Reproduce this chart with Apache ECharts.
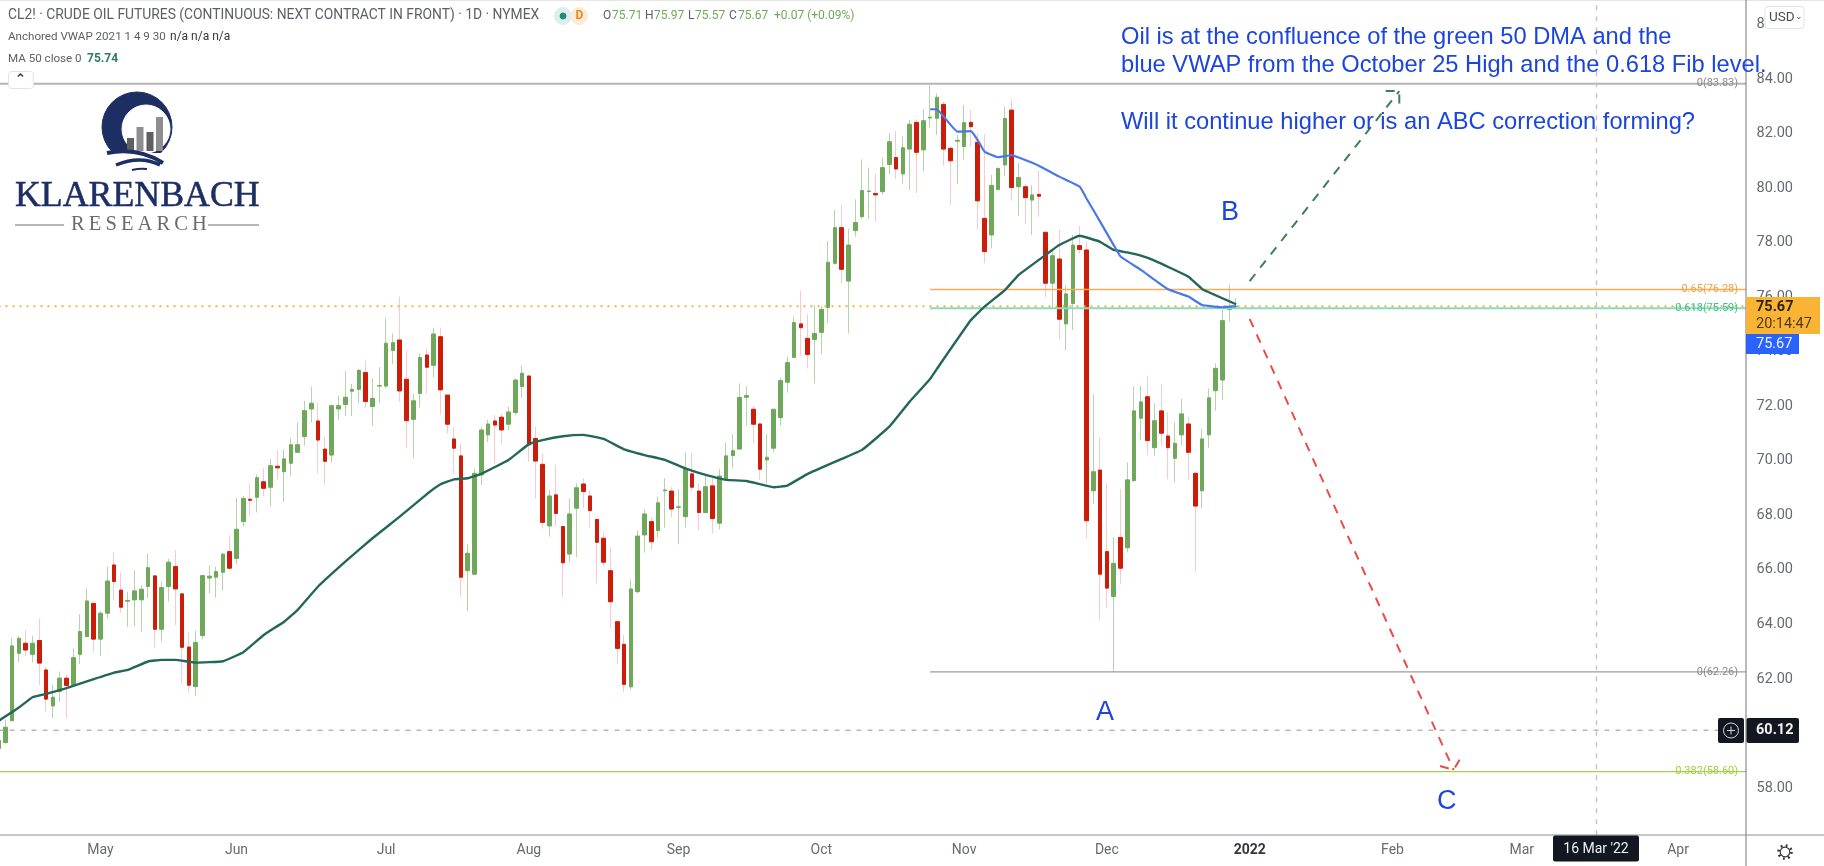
<!DOCTYPE html>
<html>
<head>
<meta charset="utf-8">
<title>CL2! Crude Oil Futures</title>
<script src="https://cdn.jsdelivr.net/npm/echarts@6/dist/echarts.min.js"></script>
<style>
html,body{margin:0;padding:0;background:#fff;}
#main{width:1824px;height:866px;}
</style>
</head>
<body>
<div id="main"></div>
<script>
// candles, one column per trading day
var opens = [59.45,59.67,60.47,62.94,63.31,62.9,63.41,62.33,61.01,61.54,62.03,61.78,62.9,63.55,64.77,63.46,64.41,66.18,65.26,64.85,
64.9,64.9,65.39,65.78,63.82,65.39,66.12,65.12,63.17,61.72,63.59,65.7,65.73,65.91,66.67,66.42,67.77,68.59,68.66,69.23,
69.03,69.8,69.6,69.91,70.31,70.89,71.9,71.46,70.43,70.21,71.9,72.06,72.55,72.62,73.24,71.99,72.74,72.74,74.04,74.43,
72.99,71.52,72.47,73.88,73.5,74.55,72.41,70.8,70.18,65.97,65.84,69.48,70.95,71.46,71.6,71.34,71.77,72.72,73.11,70.82,
69.87,67.61,68.75,67.59,66.58,68.26,69.15,68.71,67.85,67.16,65.97,64.1,63.27,61.71,65.2,67.28,67.77,67.44,68.9,68.89,
68.29,67.95,69.52,68.89,68.1,69.08,67.71,69.32,70.19,70.43,72.33,71.89,71.35,70.03,70.46,71.58,72.88,73.79,75.02,74.49,
74.45,74.71,75.62,77.24,78.55,76.59,78.44,78.95,79.87,79.8,79.87,80.87,81.12,80.52,81.43,82.41,81.4,82.57,82.56,83.07,
81.46,81.72,81.52,82.41,81.68,78.89,78.28,79.95,80.85,82.86,80.05,80.05,79.56,79.77,78.38,76.51,77.4,75.02,75.77,77.89,
77.73,68.9,69.66,66.67,65.02,67.19,66.81,69.27,71.56,72.35,70.48,71.83,70.91,70.09,70.95,71.35,69.54,68.9,70.95,72.57,
72.96,75.55,75.66];
var closes = [59.75,60.23,63.21,63.49,63.06,63.31,62.58,61.26,61.33,62.03,61.76,62.78,63.74,64.86,63.46,64.41,65.59,65.57,64.63,64.88,
65.23,65.29,66.08,63.82,65.35,66.28,65.3,63.16,61.77,63.34,65.79,65.77,65.94,66.58,66.06,67.49,68.62,68.55,69.38,68.99,
69.82,69.74,70.07,70.59,70.59,71.84,72.11,70.76,69.98,72.02,72.02,72.33,72.62,73.32,72.17,72.29,72.76,74.31,74.33,72.56,
71.47,72.2,73.79,73.43,74.65,72.6,71.34,70.46,65.73,66.61,69.54,71.13,71.35,71.31,71.13,71.79,72.96,73.21,70.58,69.99,
67.74,68.71,68.07,66.26,68.05,69.01,68.87,68.17,67.01,66.28,64.83,63.12,61.8,65.3,67.24,68.05,67.03,68.46,68.93,68.23,
68.31,69.72,69.03,68.1,69.05,67.88,69.44,70.18,70.37,72.32,72.39,71.34,69.69,70.13,71.89,72.94,73.6,75.07,74.88,73.9,
74.67,75.55,77.28,78.55,77.02,77.91,78.74,79.91,79.89,79.75,80.75,81.7,80.7,81.48,82.34,81.31,82.47,82.6,83.33,81.43,
81.0,81.75,82.4,82.25,79.53,77.67,80.1,80.72,82.55,80.02,80.39,79.65,79.75,79.7,76.51,77.52,75.19,76.12,77.91,77.75,
67.8,69.6,65.84,65.33,66.24,66.06,69.3,71.83,72.16,70.74,71.47,71.01,70.48,70.64,71.72,70.31,68.34,70.8,72.31,73.39,
75.14,75.62,75.67];
var lows = [59.3,59.62,60.44,62.6,62.84,62.6,61.78,60.8,60.56,61.15,60.56,61.72,62.54,63.55,63.0,62.84,64.22,64.92,64.43,63.9,
63.94,63.74,64.96,63.15,63.37,64.84,63.98,61.84,61.5,61.39,63.45,65.14,64.99,65.24,66.02,66.2,67.58,67.98,68.11,68.71,
68.32,69.3,68.5,69.45,70.3,70.55,71.41,69.54,69.11,69.93,71.5,71.64,71.64,72.11,71.95,71.28,72.11,72.66,73.55,72.17,
70.46,70.09,71.96,72.47,73.06,71.72,71.0,69.52,65.02,64.49,65.83,69.11,70.68,69.91,70.62,71.13,71.68,72.29,69.97,68.62,
67.52,67.22,67.62,65.02,66.3,66.46,68.26,67.56,65.51,66.12,63.86,62.57,61.53,61.6,65.14,66.63,66.73,67.19,67.55,67.93,
66.94,67.56,68.87,67.46,68.07,67.34,67.49,69.3,69.72,70.43,71.29,70.64,69.3,69.17,70.31,71.28,72.5,73.78,73.84,73.39,
72.84,73.92,75.04,77.2,76.5,74.67,78.22,78.87,78.87,78.77,79.75,80.52,80.33,80.17,79.93,79.81,80.6,82.23,81.95,80.82,
79.38,80.14,81.05,81.52,78.49,77.24,77.79,79.93,80.44,79.54,78.98,78.68,78.28,78.95,76.0,75.59,74.45,74.04,74.8,77.6,
67.16,68.42,64.17,64.62,62.27,65.49,66.64,69.23,70.76,70.21,70.19,70.56,69.32,69.2,70.58,69.32,65.94,68.26,70.48,71.84,
72.23,75.1,75.57];
var highs = [60.0,60.52,63.49,63.58,63.8,63.58,64.22,62.45,61.78,62.27,62.15,63.12,64.37,65.32,64.8,64.5,66.12,66.64,65.9,65.2,
66.0,65.45,66.61,65.8,65.57,66.4,66.73,65.15,63.7,63.77,65.8,66.15,66.12,66.6,67.28,68.63,68.71,69.17,69.5,69.72,
70.07,70.4,70.42,70.82,71.4,72.2,72.72,72.11,70.89,72.03,72.39,73.29,72.82,73.35,73.66,73.02,73.43,75.22,74.67,76.02,
74.03,72.47,73.94,74.12,74.88,74.88,72.42,71.23,70.6,66.94,69.72,71.25,71.5,71.68,71.72,71.98,73.02,73.5,73.12,71.25,
70.27,68.93,69.85,67.6,68.62,69.17,69.36,68.93,67.86,67.4,66.83,64.12,63.61,65.65,67.46,68.22,67.95,68.68,69.36,69.03,
68.95,70.31,70.27,69.17,69.48,69.36,69.7,70.66,70.97,72.84,72.72,72.01,71.36,70.98,71.9,73.06,73.82,75.29,76.23,75.37,
75.71,75.68,78.06,79.2,79.38,78.52,79.59,81.05,80.75,80.54,81.12,82.01,82.09,81.89,82.5,82.52,82.89,83.78,83.47,83.17,
81.52,81.95,83.05,82.86,82.01,81.98,80.48,80.76,82.99,83.25,80.93,80.17,80.11,80.64,78.39,77.73,78.46,76.45,78.28,78.61,
78.03,72.44,70.82,69.17,67.2,68.96,69.94,72.72,72.74,73.09,72.11,72.82,71.78,71.41,72.27,71.62,69.6,71.19,72.66,73.57,
75.53,76.47,75.97];

// MA 50 and anchored VWAP, read at the bars listed
var maBars = [0,3,5,7,10,14,17,19,22,24,26,29,33,36,39,42,44,47,51,55,59,63,65,67,69,71,75,78,80,83,86,89,92,95,98,101,104,107,110,114,116,119,124,127,131,134,137,138,143,145,148,150,154,156,159,162,164,166,168,170,175,177,182];
var maValues = [60.46,60.95,61.33,61.45,61.66,61.99,62.23,62.33,62.64,62.7,62.7,62.6,62.65,62.98,63.61,64.1,64.53,65.39,66.3,67.16,67.95,68.78,69.14,69.32,69.36,69.52,70.03,70.61,70.76,70.9,70.95,70.8,70.42,70.21,70.03,69.72,69.48,69.3,69.26,69.03,69.09,69.52,70.07,70.4,71.25,72.17,73.0,73.37,75.16,75.65,76.26,76.81,77.55,77.91,78.25,78.03,77.73,77.64,77.52,77.34,76.75,76.3,75.74];
var vwapBars = [137,138,139,141,143,144,145,147,149,151,153,156,159,160,162,164,165,168,172,175,177,180,182];
var vwapValues = [82.89,82.89,82.62,82.07,82.09,81.76,81.34,81.13,81.21,81.03,80.82,80.42,80.05,79.62,78.77,77.91,77.49,77.0,76.29,76.02,75.71,75.63,75.67];

// fib levels
var levelNames = ['0(83.83)','0.65(76.28)','0.618(75.59)','0(62.26)','0.382(58.60)'];
var levelValues = [83.83,76.28,75.59,62.26,58.60];
var levelStart = [0,137,137,137,0];
var levelColors = ['#b4b4b4','#f8ac55','#86dcbc','#9c9c9c','#a5d24a'];
var levelTextColors = ['#8a8a8a','#f4a23e','#3cc28e','#8a8a8a','#a0cf3e'];
var lastPrice = 75.67;
var crossPrice = 60.12;
var crossBar = 235;
var barCount = 258;

// time axis
var tickBars = [15,35,57,78,100,121,142,163,184,205,224,247];
var tickLabels = ['May','Jun','Jul','Aug','Sep','Oct','Nov','Dec','2022','Feb','Mar','Apr'];

// hand drawn scenario arrows
var upArrow = [[184,76.59],[206,83.56]];
var upHead = [[204,83.56],[206,83.56],[206,83.1]];
var downArrow = [[184,75.2],[214,58.66]];
var downHead = [[212,58.81],[214,58.66],[215,59.1]];

var GREEN = '#6fa85a', RED = '#cc1c0a', PALE_GREEN = '#b6d4aa', PALE_RED = '#f7c9ce';
var BLUE = '#1c45dc', NAVY = '#1d2e63';

var categories = [];
for (var i = 0; i < barCount; i++) {
    var t = tickBars.indexOf(i);
    categories.push(t >= 0 ? tickLabels[t] : '' + i);
}

var wickData = [], bodyData = [];
opens.forEach(function (o, i) {
    wickData.push([o, closes[i], lows[i], highs[i]]);
    bodyData.push([o, closes[i], Math.min(o, closes[i]), Math.max(o, closes[i])]);
});

function pairs(xs, ys) {
    return xs.map(function (x, i) { return [x, ys[i]]; });
}

var UI_FONT = 'Roboto';

function txt(x, y, s, size, color, extra) {
    var style = { x: x, y: y, text: s, fontSize: size, fontFamily: UI_FONT, fill: color, verticalAlign: 'middle' };
    for (var k in extra) style[k] = extra[k];
    return { type: 'text', silent: true, z: 102, style: style };
}
function box(x, y, w, h, fill, stroke, r, z) {
    return { type: 'rect', silent: true, z: z || 99, shape: { x: x, y: y, width: w, height: h, r: r || 0 }, style: { fill: fill, stroke: stroke || null } };
}
function seg(x1, y1, x2, y2, color, w, z) {
    return { type: 'line', silent: true, z: z || 98, shape: { x1: x1, y1: y1, x2: x2, y2: y2 }, style: { stroke: color, lineWidth: w } };
}
function circ(cx, cy, r, fill, stroke, w, dash) {
    return { type: 'circle', silent: true, z: 100, shape: { cx: cx, cy: cy, r: r }, style: { fill: fill, stroke: stroke, lineWidth: w || 1, lineDash: dash || null } };
}
function curve(x1, y1, cx, cy, x2, y2, w) {
    return { type: 'bezierCurve', silent: true, z: 101, shape: { x1: x1, y1: y1, cpx1: cx, cpy1: cy, x2: x2, y2: y2 }, style: { stroke: NAVY, lineWidth: w, fill: null } };
}

var graphics = [
    // frame
    seg(0, 0.5, 1824, 0.5, '#e4e4e4', 1),
    seg(0, 835, 1824, 835, '#8c8c8c', 1.2),
    seg(1746, 0, 1746, 866, '#8c8c8c', 1.2),

    // header
    txt(8, 16, 'CL2! · CRUDE OIL FUTURES (CONTINUOUS: NEXT CONTRACT IN FRONT) · 1D · NYMEX', 13.85, '#5d6068'),
    circ(563, 16, 8.5, '#dcefeb', '#dcefeb'),
    circ(579, 16, 8.5, '#fdebd8', '#fdebd8'),
    circ(563, 16, 3, '#1f8a76', '#1f8a76'),
    txt(575.5, 16, 'D', 12, '#f0861e', { fontWeight: 'bold' }),
    txt(603, 16, 'O', 12, '#5d6068'),
    txt(612, 16, '75.71', 12, '#6fa85a'),
    txt(645, 16, 'H', 12, '#5d6068'),
    txt(654, 16, '75.97', 12, '#6fa85a'),
    txt(688, 16, 'L', 12, '#5d6068'),
    txt(695, 16, '75.57', 12, '#6fa85a'),
    txt(729, 16, 'C', 12, '#5d6068'),
    txt(738, 16, '75.67', 12, '#6fa85a'),
    txt(774, 16, '+0.07 (+0.09%)', 12, '#6fa85a'),
    txt(8, 37, 'Anchored VWAP 2021 1 4 9 30', 11.6, '#5d6068'),
    txt(170, 37, 'n/a n/a n/a', 12, '#33363d'),
    txt(8, 59, 'MA 50 close 0', 11.6, '#5d6068'),
    txt(87, 59, '75.74', 12, '#2c7a68', { fontWeight: 'bold' }),
    box(8.5, 71.5, 25, 17, '#fff', '#e2e3e6', 3),
    txt(15, 80, '⌃', 13, '#444', { fontWeight: 'bold' }),

    // logo
    circ(137, 127, 35, NAVY, NAVY),
    circ(146, 129, 24, '#fff', '#fff'),
    box(100, 153, 75, 14, '#fff', null, 0, 100),
    box(127, 138, 7, 13, '#5f5f62', null, 0, 101),
    box(136.5, 127, 7, 24, '#8e8e90', null, 0, 101),
    box(146.5, 132, 7, 19, '#5f5f62', null, 0, 101),
    box(156, 117, 7, 34, '#8e8e90', null, 0, 101),
    curve(107, 153, 138, 147, 163, 163, 4),
    curve(116, 165, 140, 155, 160, 165, 3.5),
    curve(132, 170, 140, 168, 147, 169, 2),
    txt(15, 197, 'KLARENBACH', 35.8, NAVY, { fontFamily: 'Liberation Serif', stroke: NAVY, lineWidth: 0.5 }),
    txt(71, 225, 'R\u2009E\u2009S\u2009E\u2009A\u2009R\u2009C\u2009H', 20.5, '#6b6c70', { fontFamily: 'Liberation Serif' }),
    seg(15, 225, 64, 225, '#6b6c70', 1),
    seg(208, 225, 259, 225, '#6b6c70', 1),

    // annotations
    txt(1121, 37, 'Oil is at the confluence of the green 50 DMA and the', 23.7, BLUE, { fontFamily: 'Liberation Sans' }),
    txt(1121, 65, 'blue VWAP from the October 25 High and the 0.618 Fib level.', 23.7, BLUE, { fontFamily: 'Liberation Sans' }),
    txt(1121, 122, 'Will it continue higher or is an ABC correction forming?', 23.7, BLUE, { fontFamily: 'Liberation Sans' }),
    txt(1221, 213, 'B', 27, BLUE, { fontFamily: 'Liberation Sans' }),
    txt(1096, 713, 'A', 27, BLUE, { fontFamily: 'Liberation Sans' }),
    txt(1437, 802, 'C', 27, BLUE, { fontFamily: 'Liberation Sans' }),

    // price scale badges
    box(1765, 6.5, 39, 22, '#fff', '#e2e3e6', 3),
    txt(1769, 17.5, 'USD', 13.5, '#4a4d55'),
    txt(1795, 17, '⌄', 9, '#4a4d55'),
    box(1746, 297, 74, 37, '#f9b335'),
    txt(1756, 307, '75.67', 14.5, '#2c2410', { fontWeight: 'bold' }),
    txt(1756, 324, '20:14:47', 14.5, '#4d3c12'),
    box(1746, 334, 53, 20, '#2962ff'),
    txt(1756, 344, '75.67', 14.5, '#eef2ff'),
    box(1718, 718, 26, 25, '#131722', null, 2),
    circ(1731, 730.5, 7.5, null, '#d8d9dc', 1),
    seg(1727, 730.5, 1735, 730.5, '#d8d9dc', 1, 101),
    seg(1731, 726.5, 1731, 734.5, '#d8d9dc', 1, 101),
    box(1746.5, 718, 52.5, 25, '#131722', null, 2),
    txt(1756, 730.5, '60.12', 14.5, '#f0f1f3', { fontWeight: 'bold' }),

    // time scale badge and settings
    box(1553, 835.5, 86, 26, '#131722', null, 2),
    txt(1596, 849, "16 Mar '22", 14, '#f0f1f3', { align: 'center' }),
    circ(1785, 852, 6.5, '#fff', '#333', 2.6, [1.8, 3.3]),
    circ(1785, 852, 4.8, '#fff', '#333', 1.2)
];

var myChart = echarts.init(document.getElementById('main'));

var series = [];
// pale wick under a solid body, as both come from the same values
series.push({
    type: 'candlestick', data: wickData, barWidth: 1, silent: true, z: 2,
    itemStyle: { color: PALE_GREEN, color0: PALE_RED, borderColor: PALE_GREEN, borderColor0: PALE_RED, borderWidth: 1 }
});
series.push({
    type: 'candlestick', data: bodyData, barWidth: 4, silent: true, z: 3,
    itemStyle: { color: GREEN, color0: RED, borderColor: GREEN, borderColor0: RED, borderWidth: 1 }
});
series.push({ type: 'line', data: pairs(maBars, maValues), showSymbol: false, smooth: 0.1, silent: true, z: 6, lineStyle: { color: '#24665a', width: 2.4 } });
series.push({ type: 'line', data: pairs(vwapBars, vwapValues), showSymbol: false, smooth: 0.1, silent: true, z: 7, lineStyle: { color: '#4a78e6', width: 2.2 } });

levelNames.forEach(function (name, i) {
    series.push({
        type: 'line', silent: true, showSymbol: true, symbolSize: 0, z: 5,
        data: [[levelStart[i], levelValues[i]], {
            value: [barCount - 1, levelValues[i]],
            label: { show: true, formatter: name, position: 'left', distance: 8, fontFamily: UI_FONT, fontSize: 11, color: levelTextColors[i] }
        }],
        lineStyle: { color: levelColors[i], width: i === 0 || i === 2 ? 2 : 1.3 }
    });
});
series.push({ type: 'line', data: [[0, lastPrice], [barCount - 1, lastPrice]], showSymbol: false, silent: true, z: 5, lineStyle: { color: '#f7b33d', width: 2, type: [2, 5] } });
series.push({ type: 'line', data: [[0, crossPrice], [barCount - 1, crossPrice]], showSymbol: false, silent: true, z: 5, lineStyle: { color: '#b8b8b8', width: 1.4, type: [5, 6] } });
series.push({ type: 'line', data: [[crossBar, 56.27], [crossBar, 88]], showSymbol: false, silent: true, z: 5, lineStyle: { color: '#c4c4c4', width: 1.4, type: [5, 6] } });

[upArrow, upHead].forEach(function (d) {
    series.push({ type: 'line', data: d, showSymbol: false, silent: true, z: 8, lineStyle: { color: '#3d7f50', width: 2, type: [9, 8] } });
});
[downArrow, downHead].forEach(function (d) {
    series.push({ type: 'line', data: d, showSymbol: false, silent: true, z: 8, lineStyle: { color: '#ee4a4a', width: 2, type: [9, 8] } });
});

var option = {
    animation: false,
    backgroundColor: '#fff',
    grid: { left: -4.9, width: 1754.4, top: -30.08, height: 872.64, containLabel: false, outerBoundsMode: 'none' },
    xAxis: {
        type: 'category',
        data: categories,
        boundaryGap: true,
        axisLine: { show: false },
        axisTick: { show: false },
        splitLine: { show: false },
        axisLabel: {
            margin: 1,
            interval: function (i) { return tickBars.indexOf(i) >= 0; },
            formatter: function (v) { return v === '2022' ? '{b|2022}' : v; },
            fontFamily: UI_FONT,
            fontSize: 14,
            color: '#666a72',
            rich: { b: { fontFamily: UI_FONT, fontSize: 14, fontWeight: 'bold', color: '#33363d' } }
        }
    },
    yAxis: {
        type: 'value',
        position: 'right',
        offset: -3.4,
        min: 56,
        max: 88,
        interval: 2,
        axisLine: { show: false },
        axisTick: { show: false },
        splitLine: { show: false },
        axisLabel: {
            margin: 10.5,
            fontFamily: UI_FONT,
            fontSize: 14.5,
            color: '#666a72',
            formatter: function (v) { return v === 56 || v === 88 ? '' : v.toFixed(2); }
        }
    },
    series: series,
    graphic: graphics
};
myChart.setOption(option);
</script>
</body>
</html>
